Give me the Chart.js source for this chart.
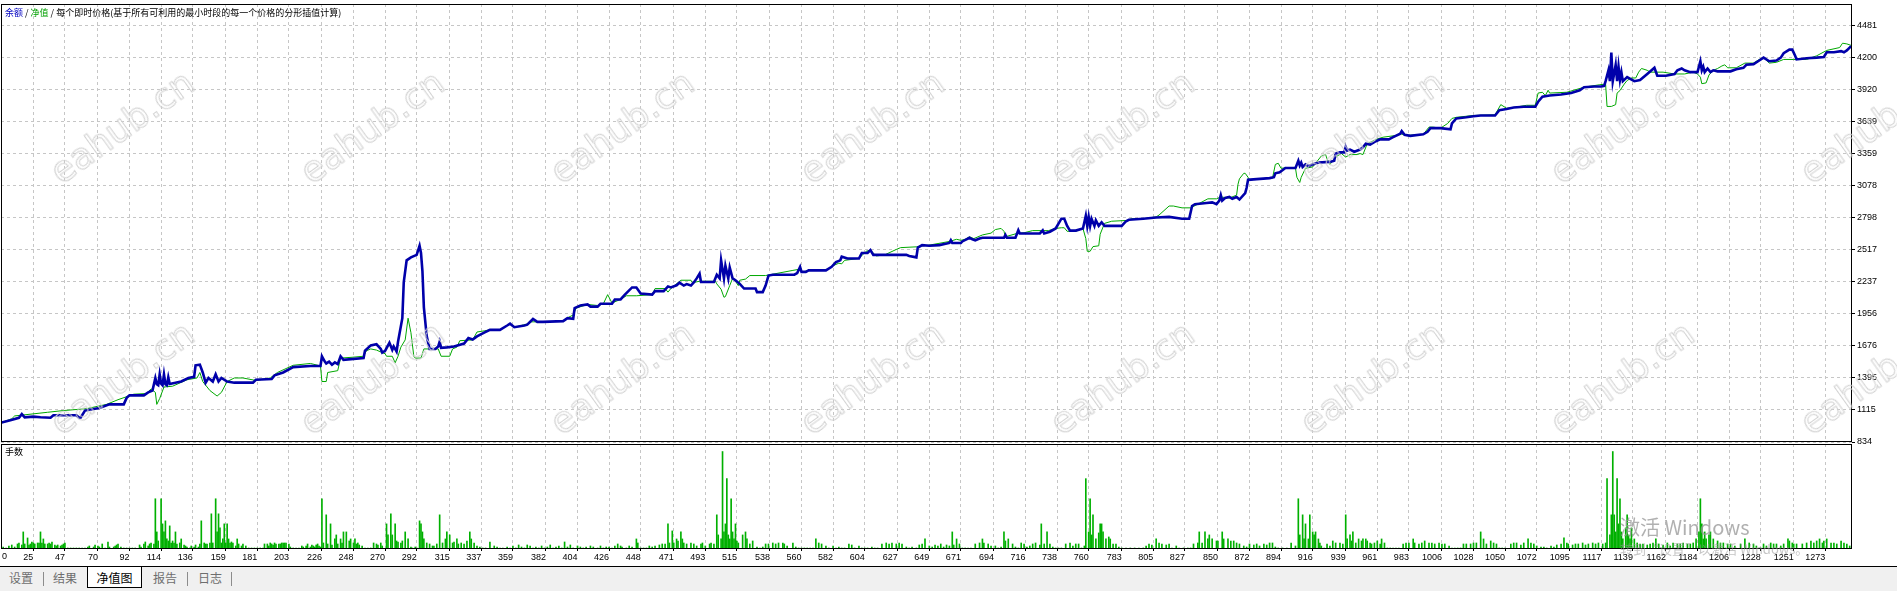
<!DOCTYPE html>
<html>
<head>
<meta charset="utf-8">
<script src="https://cdn.jsdelivr.net/npm/chart.js@4.4.1/dist/chart.umd.min.js"></script>
<style>
html,body{margin:0;padding:0;background:#fff;}
body{width:1897px;height:591px;position:relative;overflow:hidden;font-family:"Liberation Sans",Arial,sans-serif;}
.wrap{position:absolute;left:0;width:1897px;}
#wrapA{top:0;height:452px;}
#wrapB{top:442px;height:125px;}
canvas{display:block;}
.legend{position:absolute;left:5px;top:6px;font-size:9px;line-height:13px;font-family:"Noto Sans CJK SC",sans-serif;white-space:nowrap;color:#000;}
.legend .bal{color:#0000c0}
.legend .eq{color:#00a000}
.lots{position:absolute;left:5px;top:446px;font-size:9px;line-height:12px;font-family:"Noto Sans CJK SC",sans-serif;color:#000;}
.x0{position:absolute;left:2px;top:551px;font-size:9px;line-height:11px;font-family:"Liberation Sans",sans-serif;color:#000;}
.wm{position:absolute;font-family:"DejaVu Sans",sans-serif;font-size:36px;line-height:40px;white-space:nowrap;color:transparent;-webkit-text-stroke:1px #d2d2d2;transform:translate(-50%,-50%) rotate(-35.5deg);pointer-events:none;}
#tabs{position:absolute;left:0;top:566px;width:1897px;height:24px;background:#f0f0f0;border-top:1px solid #000;}
.tab{position:absolute;top:4px;font-size:12px;line-height:14px;font-family:"Noto Sans CJK SC",sans-serif;color:#6e6e6e;white-space:nowrap;}
.sep{position:absolute;top:5px;width:1px;height:14px;background:#8c8c8c;}
.active{position:absolute;left:87px;top:0;width:55px;height:20px;background:#fff;border:1px solid #000;border-top:none;font-size:12px;line-height:14px;font-family:"Noto Sans CJK SC",sans-serif;color:#000;text-align:center;padding-top:4px;box-sizing:border-box;height:21px;}
.act1{position:absolute;left:1620px;top:514px;font-size:20px;line-height:26px;font-family:"Noto Sans CJK SC",sans-serif;color:rgba(150,150,150,0.75);white-space:nowrap;}
.act2{position:absolute;left:1620px;top:541px;font-size:13px;line-height:16px;font-family:"Noto Sans CJK SC",sans-serif;color:rgba(150,150,150,0.55);white-space:nowrap;}
</style>
</head>
<body>
<div class="wrap" id="wrapA"><canvas id="main" width="1897" height="452"></canvas></div>
<div class="wrap" id="wrapB"><canvas id="vol" width="1897" height="125"></canvas></div>
<div class="legend"><span class="bal">余额</span> / <span class="eq">净值</span> / 每个即时价格(基于所有可利用的最小时段的每一个价格的分形插值计算)</div>
<div class="lots">手数</div>
<div class="x0" id="x0"></div>
<div id="wms"></div>
<div class="act1">激活 Windows</div>
<div class="act2">转到“设置”以激活 Windows。</div>
<div id="tabs">
  <span class="tab" style="left:9px">设置</span>
  <div class="sep" style="left:43px"></div>
  <span class="tab" style="left:53px">结果</span>
  <div class="active">净值图</div>
  <span class="tab" style="left:153px">报告</span>
  <div class="sep" style="left:187px"></div>
  <span class="tab" style="left:198px">日志</span>
  <div class="sep" style="left:231px"></div>
</div>
<script>
// ---------------- data ----------------
const xTickLabels = [0,25,47,70,92,114,136,159,181,203,226,248,270,292,315,337,359,382,404,426,448,471,493,515,538,560,582,604,627,649,671,694,716,738,760,783,805,827,850,872,894,916,939,961,983,1006,1028,1050,1072,1095,1117,1139,1162,1184,1206,1228,1251,1273];
const yTickLabels = [834,1115,1395,1676,1956,2237,2517,2798,3078,3359,3639,3920,4200,4481];

// balance (余额): [trade #, value]
const balance = [
[2,1003],[3,1005],[9,1024],[15,1046],[17,1078],[19,1050],[25,1056],[30,1050],[37,1046],[39,1068],[55,1068],[57,1046],[58,1048],[61,1109],[71,1132],[78,1163],[88,1163],[90,1220],[92,1242],[102,1242],[105,1268],[108,1284],[110,1394],[111,1340],[112,1331],[113,1426],[114,1345],[115,1331],[116,1426],[117,1340],[118,1331],[119,1400],[120,1341],[128,1363],[133,1394],[137,1404],[138,1505],[141,1511],[143,1442],[145,1353],[147,1394],[150,1363],[152,1426],[154,1363],[156,1394],[160,1363],[165,1353],[178,1353],[180,1378],[191,1385],[193,1417],[199,1442],[206,1489],[218,1499],
[225,1499],[226,1584],[228,1537],[229,1521],[231,1537],[233,1510],[235,1530],[237,1515],[239,1584],[241,1553],[255,1568],[256,1632],[260,1679],[264,1689],[267,1648],[268,1616],[270,1632],[273,1701],[275,1640],[276,1670],[278,1625],[279,1711],[282,1917],[283,2233],[285,2423],[288,2449],[292,2471],[294,2550],[295,2487],[296,2328],[297,2012],[299,1758],[301,1648],[305,1648],[307,1670],[308,1711],[309,1657],[313,1662],[318,1670],[325,1695],[328,1743],[331,1730],[334,1758],[339,1790],[343,1815],[350,1815],[355,1853],[357,1869],[360,1838],[367,1853],[369,1860],[373,1910],[376,1885],[380,1885],[394,1891],[397,1917],[401,1912],[402,2005],[406,2028],[411,2037],[413,2018],[418,2018],[420,2043],[428,2043],[430,2081],[434,2081],
[437,2123],[442,2186],[445,2186],[448,2132],[456,2123],[458,2154],[464,2154],[467,2195],[469,2186],[473,2205],[475,2227],[478,2202],[480,2215],[483,2202],[485,2230],[487,2265],[489,2306],[490,2233],[499,2233],[501,2297],[503,2265],[504,2423],[506,2265],[507,2376],[509,2265],[510,2360],[512,2265],[514,2249],[517,2217],[520,2176],[528,2176],[529,2145],[533,2145],[535,2202],[537,2290],[540,2297],[555,2297],[557,2312],[559,2366],[560,2322],[563,2322],[565,2335],[577,2335],[581,2366],[584,2407],[587,2423],[588,2455],[592,2439],[600,2439],[602,2487],[606,2487],[608,2512],[610,2471],[633,2471],[635,2461],[640,2449],[641,2534],[644,2556],[649,2550],
[656,2556],[663,2575],[664,2598],[665,2575],[671,2575],[672,2588],[677,2620],[679,2607],[681,2598],[684,2613],[686,2620],[701,2620],[702,2645],[703,2620],[709,2620],[711,2686],[712,2658],[726,2658],[728,2686],[729,2658],[733,2673],[737,2702],[741,2787],[743,2787],[745,2724],[747,2683],[751,2683],[756,2702],[758,2813],[759,2724],[760,2803],[761,2724],[762,2787],[764,2724],[765,2772],[767,2724],[769,2756],[771,2724],[774,2724],[783,2724],[786,2765],[788,2778],[798,2787],[807,2797],[816,2803],[825,2787],[830,2787],[832,2898],[834,2914],[842,2924],[846,2930],[849,2914],[851,2946],[852,2993],[853,2946],[855,2968],[858,2977],[860,2961],[863,2977],[865,2955],
[869,3011],[870,3058],[871,3127],[877,3133],[886,3142],[889,3150],[890,3184],[893,3193],[897,3231],[904,3231],[905,3262],[906,3294],[907,3253],[908,3278],[909,3240],[911,3262],[913,3246],[916,3262],[920,3278],[928,3284],[931,3294],[932,3357],[935,3367],[938,3367],[939,3414],[940,3383],[942,3392],[945,3373],[949,3392],[951,3411],[953,3443],[956,3436],[960,3465],[963,3481],[969,3481],[972,3500],[977,3531],[978,3553],[980,3521],[984,3512],[993,3525],[996,3547],[998,3579],[1005,3579],[1012,3569],[1013,3620],[1016,3664],[1023,3674],[1028,3683],[1033,3690],[1043,3690],[1046,3737],[1051,3747],[1056,3760],[1063,3766],[1071,3766],[1073,3810],[1076,3855],[1081,3864],
[1089,3874],[1096,3886],[1102,3911],[1105,3937],[1112,3943],[1117,3943],[1119,3949],[1120,3990],[1122,4085],[1123,3990],[1124,4240],[1125,3990],[1127,4132],[1128,3990],[1129,4117],[1130,4000],[1131,4069],[1132,3990],[1135,4025],[1140,3990],[1144,4000],[1149,4053],[1152,4085],[1154,4107],[1156,4037],[1162,4037],[1168,4053],[1170,4085],[1173,4101],[1175,4085],[1179,4069],[1184,4069],[1186,4164],[1187,4085],[1188,4117],[1189,4069],[1191,4101],[1193,4069],[1195,4085],[1198,4076],[1207,4076],[1211,4095],[1216,4107],[1218,4133],[1223,4139],[1227,4171],[1230,4196],[1234,4164],[1239,4171],[1242,4196],[1244,4234],[1248,4266],[1250,4266],[1252,4212],[1253,4180],[1260,4190],[1267,4196],[1272,4202],[1274,4243],[1279,4243],[1284,4253],[1286,4243],[1288,4259],[1291,4297]
];

// equity (净值): [trade #, value]
const equity = [
[2,1003],[3,1005],[10,1037],[12,1062],[35,1094],[46,1109],[62,1125],[76,1163],[84,1204],[89,1226],[95,1252],[104,1258],[107,1299],[110,1268],[111,1163],[113,1214],[116,1315],[122,1322],[132,1378],[139,1394],[141,1442],[143,1363],[148,1284],[153,1236],[156,1268],[160,1363],[165,1394],[171,1394],[180,1372],[190,1394],[195,1442],[206,1505],[218,1521],
[225,1499],[226,1363],[229,1363],[230,1442],[237,1458],[239,1568],[247,1575],[255,1584],[257,1632],[260,1648],[264,1638],[268,1616],[270,1606],[271,1584],[275,1584],[277,1527],[279,1584],[281,1664],[284,1727],[286,1917],[288,1790],[290,1584],[291,1568],[295,1568],[297,1648],[307,1648],[309,1584],[315,1584],[317,1648],[320,1664],[322,1720],[331,1727],[334,1796],[339,1806],[343,1815],[350,1815],[355,1853],[357,1869],[360,1838],[369,1866],[371,1885],[380,1885],[394,1891],[397,1920],[401,1945],[403,2005],[411,2037],[418,2028],[422,2043],[425,2123],[428,2050],[434,2081],
[438,2113],[445,2113],[456,2123],[458,2176],[465,2176],[467,2145],[469,2176],[476,2249],[483,2249],[484,2227],[489,2240],[500,2240],[501,2217],[504,2170],[506,2100],[507,2106],[510,2202],[512,2265],[514,2240],[516,2202],[517,2249],[521,2259],[524,2290],[535,2290],[538,2297],[554,2335],[558,2344],[561,2322],[565,2335],[578,2344],[582,2376],[586,2398],[588,2392],[590,2423],[600,2439],[605,2502],[608,2512],[612,2461],[618,2471],[626,2518],[629,2534],[640,2541],[644,2550],[649,2556],
[663,2588],[668,2607],[671,2598],[674,2607],[677,2629],[680,2613],[686,2645],[692,2661],[695,2692],[699,2702],[701,2677],[702,2629],[710,2658],[715,2664],[721,2683],[732,2683],[737,2702],[741,2708],[743,2708],[745,2677],[751,2677],[756,2702],[758,2613],[759,2502],[761,2502],[763,2543],[767,2550],[768,2651],[771,2746],[776,2765],[787,2772],[790,2787],[798,2787],[807,2803],[809,2819],[816,2898],[819,2898],[825,2882],[831,2882],[836,2914],[843,2961],[849,2961],[852,2977],[858,2968],[863,2993],[864,3089],[865,3136],
[868,3184],[869,3184],[871,3149],[872,3127],[877,3133],[888,3142],[890,3262],[892,3272],[894,3228],[897,3231],[904,3231],[905,3149],[907,3104],[908,3149],[911,3228],[916,3240],[922,3335],[925,3348],[926,3310],[928,3262],[930,3294],[933,3335],[936,3357],[939,3326],[942,3348],[947,3348],[949,3357],[951,3348],[954,3443],[961,3484],[965,3500],[974,3515],[977,3531],[981,3515],[993,3525],[997,3588],[1000,3588],[1005,3579],[1010,3620],[1013,3664],[1016,3674],[1028,3690],[1043,3696],[1047,3785],[1051,3753],[1056,3760],[1065,3779],[1071,3779],[1073,3886],[1076,3893],[1078,3864],[1080,3911],[1081,3886],
[1093,3893],[1105,3937],[1116,3959],[1120,3965],[1121,3769],[1124,3769],[1127,3785],[1128,3886],[1130,3908],[1133,3965],[1135,3996],[1138,4018],[1141,4018],[1143,4069],[1145,4101],[1149,4085],[1151,4069],[1160,4069],[1168,4053],[1175,4053],[1181,4069],[1184,4053],[1186,4025],[1187,3968],[1190,3975],[1192,4044],[1195,4085],[1198,4101],[1201,4123],[1203,4133],[1205,4107],[1211,4107],[1217,4148],[1223,4148],[1227,4180],[1230,4196],[1234,4148],[1239,4155],[1244,4180],[1251,4180],[1260,4180],[1267,4212],[1274,4259],[1283,4284],[1285,4322],[1288,4316],[1291,4303]
];

// lots (手数): [trade #, lots]
const lots = [
[1,.02],[4,.02],[6,.01],[8,.03],[10,.04],[12,.02],[14,.05],[15,.06],[17,.04],[18,.17],[19,.05],[21,.11],[22,.04],[23,.05],[24,.07],[25,.06],[26,.05],[28,.06],[29,.06],[30,.17],[31,.06],[32,.10],[33,.05],[35,.05],[36,.06],[37,.05],[38,.07],[40,.04],[41,.03],[42,.04],[44,.03],[45,.04],[46,.05],[47,.06],[49,.01],[51,.01],[53,.01],[55,.01],[57,.01],[59,.01],[61,.01],[63,.02],[64,.03],[67,.02],[68,.04],[70,.03],[71,.02],[73,.05],[75,.01],[77,.07],[78,.02],[81,.02],[82,.03],[83,.04],[84,.05],[86,.02],[88,.01],[90,.01],[92,.01],[94,.01],[96,.01],[99,.04],[100,.02],[102,.05],[103,.07],[105,.03],[106,.05],[107,.06],[109,.05],[110,.50],[111,.17],[112,.08],[114,.50],[115,.25],[116,.17],[117,.28],[118,.10],[119,.08],[120,.23],[121,.06],[122,.08],[123,.06],[124,.17],[125,.05],[127,.06],[128,.10],[130,.04],[131,.03],[132,.02],[134,.01],[135,.03],[137,.02],[138,.04],[140,.02],[141,.05],[142,.28],[144,.06],[145,.05],[146,.05],[148,.06],[149,.35],[150,.06],[152,.50],[153,.17],[154,.35],[155,.21],[156,.06],[157,.10],[158,.25],[159,.06],[160,.25],[161,.10],[162,.06],[163,.07],[164,.06],[166,.03],[167,.10],[168,.05],[170,.03],[171,.05],[173,.03],[175,.01],[177,.01],[179,.01],[181,.01],[183,.01],[185,.01],[186,.05],[188,.05],[189,.03],[190,.06],[191,.05],[192,.04],[193,.06],[194,.05],[196,.05],[197,.05],[198,.06],[199,.06],[200,.06],[201,.06],[203,.05],[204,.02],[206,.01],[208,.01],[210,.01],[212,.03],[213,.02],[215,.03],[216,.05],
[218,.02],[219,.04],[220,.03],[221,.02],[222,.04],[223,.05],[224,.03],[225,.02],[226,.50],[227,.06],[229,.34],[230,.05],[232,.25],[233,.04],[235,.10],[236,.14],[237,.05],[239,.10],[240,.06],[241,.17],[243,.17],[245,.08],[246,.10],[248,.06],[249,.10],[250,.05],[251,.06],[252,.04],[254,.03],[256,.01],[258,.01],[260,.01],[262,.06],[264,.05],[265,.04],[267,.06],[268,.03],[271,.25],[272,.14],[274,.35],[275,.14],[277,.25],[278,.08],[279,.07],[281,.06],[282,.08],[284,.17],[286,.10],[288,.02],[289,.01],[291,.02],[292,.01],[294,.28],[295,.25],[296,.17],[297,.10],[299,.06],[301,.05],[303,.03],[304,.03],[306,.05],[308,.34],[310,.06],[312,.10],[313,.17],[315,.14],[317,.06],[318,.07],[320,.10],[321,.05],[323,.06],[325,.05],[327,.08],[329,.17],[330,.10],[332,.06],[334,.03],[336,.02],[338,.01],[340,.01],[343,.07],[346,.03],[348,.02],[350,.01],[352,.01],[355,.02],[357,.01],[359,.03],[361,.01],[363,.04],[365,.02],[367,.01],[369,.04],[371,.03],[373,.01],[375,.02],[377,.01],[379,.03],[381,.01],[383,.02],[385,.04],[387,.01],[389,.02],[391,.03],[393,.01],[395,.07],[397,.02],[399,.04],[401,.01],[404,.03],[406,.02],[408,.01],[410,.02],[413,.03],[415,.02],[418,.01],[420,.03],[422,.01],[424,.02],[426,.02],[428,.01],[430,.03],[432,.05],
[434,.03],[435,.02],[438,.01],[440,.03],[442,.02],[445,.10],[446,.06],[448,.01],[450,.01],[452,.01],[454,.03],[456,.02],[458,.03],[461,.04],[463,.05],[465,.05],[467,.25],[468,.06],[470,.18],[471,.06],[473,.10],[474,.08],[476,.17],[477,.10],[478,.06],[480,.05],[483,.06],[485,.05],[487,.03],[490,.05],[491,.06],[493,.03],[496,.05],[497,.06],[499,.05],[501,.34],[502,.14],[504,.10],[505,.97],[506,.17],[507,.25],[508,.70],[509,.14],[510,.10],[511,.50],[512,.17],[513,.10],[514,.25],[515,.08],[516,.06],[519,.14],[521,.17],[522,.10],[524,.05],[526,.08],[529,.02],[531,.01],[533,.02],[535,.05],[537,.05],[540,.06],[542,.05],[544,.06],[547,.06],[548,.05],[550,.03],[554,.06],[556,.02],[558,.01],[560,.01],[562,.01],[564,.01],[566,.01],[568,.01],[570,.10],[572,.06],[574,.05],[577,.03],[579,.01],[582,.03],[584,.01],[586,.02],[588,.01],[590,.01],[593,.05],[595,.04],[597,.01],[600,.03],[602,.01],[604,.01],[606,.01],[609,.02],[611,.01],[613,.01],[616,.05],[619,.06],[621,.05],[623,.06],[626,.05],[628,.06],[630,.05],[633,.02],[635,.01],[637,.02],[640,.01],[642,.04],[644,.05],[646,.10],[649,.03],
[651,.02],[653,.04],[655,.03],[657,.05],[659,.02],[661,.04],[663,.03],[665,.17],[666,.04],[668,.10],[670,.05],[672,.01],[674,.01],[676,.01],[678,.01],[681,.05],[684,.06],[686,.10],[687,.06],[690,.05],[692,.03],[695,.03],[697,.01],[699,.02],[701,.17],[702,.08],[704,.10],[707,.05],[709,.02],[711,.01],[713,.06],[715,.05],[717,.02],[719,.03],[721,.05],[723,.06],[726,.04],[727,.25],[729,.05],[731,.17],[733,.05],[735,.02],[737,.01],[739,.01],[741,.01],[744,.05],[747,.06],[749,.03],[751,.05],[753,.05],[755,.01],[757,.03],[758,.70],[760,.17],[761,.50],[762,.14],[763,.34],[765,.10],[767,.16],[768,.25],[769,.25],[770,.17],[772,.10],[774,.12],[775,.10],[777,.05],[779,.05],[781,.02],[783,.01],[786,.01],[789,.01],[792,.01],[795,.01],[798,.01],[800,.03],[802,.05],[804,.04],[807,.10],[809,.06],[811,.05],[814,.04],[816,.05],[818,.01],[821,.03],[823,.01],[826,.01],[829,.01],[831,.01],[833,.05],[836,.06],[837,.17],[839,.06],[841,.17],[843,.10],[844,.14],[846,.10],[849,.08],[850,.08],[853,.17],[854,.10],[857,.10],[859,.08],[861,.08],[863,.06],
[865,.05],[868,.03],[870,.02],[872,.05],[875,.04],[877,.05],[879,.03],[882,.05],[884,.04],[886,.06],[888,.06],[890,.02],[892,.01],[895,.01],[898,.01],[901,.06],[904,.03],[906,.50],[907,.14],[909,.34],[910,.10],[911,.25],[913,.10],[914,.34],[916,.17],[917,.14],[918,.17],[920,.10],[921,.06],[922,.03],[924,.01],[926,.05],[928,.03],[930,.08],[932,.06],[935,.06],[937,.05],[939,.34],[940,.10],[942,.14],[943,.08],[944,.17],[946,.06],[948,.10],[950,.08],[951,.10],[953,.10],[954,.08],[956,.06],[957,.05],[959,.06],[961,.08],[963,.05],[964,.10],[966,.06],[968,.01],[970,.01],[972,.01],[974,.01],[976,.01],[979,.05],[981,.06],[983,.06],[986,.10],[987,.06],[990,.05],[992,.06],[994,.08],[997,.06],[999,.06],[1001,.05],[1004,.06],[1006,.05],[1008,.05],[1011,.03],[1013,.01],[1015,.01],[1017,.01],[1019,.01],[1021,.05],[1023,.05],[1026,.05],[1028,.06],[1030,.06],[1033,.17],[1035,.10],[1037,.05],[1040,.08],[1042,.06],[1044,.05],[1046,.01],[1048,.01],[1050,.01],[1054,.05],[1056,.06],[1058,.06],[1061,.04],[1063,.06],[1066,.10],[1068,.06],[1070,.05],[1072,.03],[1075,.02],[1077,.02],[1079,.01],
[1082,.03],[1084,.02],[1086,.04],[1089,.05],[1091,.11],[1093,.06],[1094,.05],[1097,.04],[1099,.05],[1101,.05],[1104,.06],[1106,.04],[1108,.05],[1111,.06],[1113,.05],[1115,.06],[1118,.05],[1120,.06],[1121,.70],[1123,.14],[1124,.34],[1125,.97],[1126,.34],[1127,.17],[1128,.70],[1129,.25],[1130,.50],[1131,.17],[1132,.10],[1134,.21],[1135,.34],[1136,.14],[1137,.10],[1138,.21],[1140,.10],[1142,.06],[1144,.05],[1146,.05],[1149,.04],[1151,.05],[1153,.06],[1155,.10],[1157,.05],[1160,.04],[1163,.06],[1165,.03],[1167,.06],[1170,.05],[1172,.05],[1174,.06],[1177,.05],[1179,.05],[1181,.06],[1183,.10],[1185,.17],[1186,.50],[1187,.25],[1188,.10],[1189,.17],[1190,.10],[1192,.14],[1193,.17],[1195,.10],[1198,.08],[1200,.06],[1202,.06],[1205,.05],[1207,.05],[1210,.03],[1214,.05],[1217,.10],[1220,.06],[1223,.05],[1225,.03],[1228,.01],[1230,.05],[1232,.03],[1235,.06],[1237,.05],[1239,.05],[1242,.03],[1244,.05],[1247,.10],[1248,.08],[1250,.06],[1251,.05],[1253,.05],[1257,.05],[1260,.06],[1263,.08],[1265,.06],[1267,.08],[1269,.10],[1271,.06],[1272,.08],[1274,.10],[1277,.06],[1279,.06],[1281,.05],[1284,.08],[1286,.06],[1288,.05],[1290,.03]
];

// ---------------- chart setup ----------------
const X_MIN = 2.5, X_MAX = 1291.6;
const Y_MIN = 834, Y_MAX = 4665;
const LOT_MAX = 1.045;
const GRID = '#c6c6c6';
const FONT = {family: 'Liberation Sans', size: 9};

const xInRange = xTickLabels.filter(v => v >= X_MIN && v <= X_MAX);
document.getElementById('x0').textContent = xTickLabels.filter(v => v < X_MIN).join(' ');

const frame = {
  id: 'frame',
  afterDraw(chart) {
    const {ctx, chartArea: a} = chart;
    ctx.save();
    ctx.strokeStyle = '#000';
    ctx.lineWidth = 1;
    ctx.setLineDash([]);
    const l = Math.round(a.left), t = Math.round(a.top), r = Math.round(a.right), b = Math.round(a.bottom);
    ctx.strokeRect(l + 0.5, t + 0.5, r - l - 1, b - t - 1);
    ctx.restore();
  }
};

const noPadX = s => { s.paddingLeft = 0; s.paddingRight = 0; };

new Chart(document.getElementById('main'), {
  type: 'line',
  data: {
    datasets: [
      {label: '余额', data: balance.map(([x, y]) => ({x, y})), borderColor: '#0000aa', borderWidth: 2.6, pointRadius: 0, tension: 0, borderJoinStyle: 'miter', fill: false},
      {label: '净值', data: equity.map(([x, y]) => ({x, y})), borderColor: '#00a800', borderWidth: 1, pointRadius: 0, tension: 0, fill: false}
    ]
  },
  options: {
    responsive: false, animation: false, devicePixelRatio: 1, events: [],
    layout: {padding: {left: 1, right: 0, top: 4, bottom: 10}},
    plugins: {legend: {display: false}, tooltip: {enabled: false}},
    scales: {
      x: {
        type: 'linear', min: X_MIN, max: X_MAX, offset: false,
        afterBuildTicks: s => { s.ticks = xInRange.map(v => ({value: v})); },
        afterFit: s => { s.height = 0; noPadX(s); },
        ticks: {display: false},
        grid: {color: GRID, lineWidth: 1, drawTicks: false},
        border: {display: false, dash: [3, 3]}
      },
      y: {
        type: 'linear', position: 'right', min: Y_MIN, max: Y_MAX,
        afterBuildTicks: s => { s.ticks = yTickLabels.map(v => ({value: v})); },
        afterFit: s => { s.width = 45; s.paddingTop = 0; s.paddingBottom = 0; },
        ticks: {callback: v => String(v), font: FONT, color: '#000', padding: 2, autoSkip: false},
        grid: {color: GRID, lineWidth: 1, drawTicks: true, tickLength: 3, tickColor: '#000'},
        border: {display: false, dash: [3, 3]}
      }
    }
  },
  plugins: [frame]
});

new Chart(document.getElementById('vol'), {
  type: 'bar',
  data: {
    datasets: [
      {label: '手数', data: lots.map(([x, y]) => ({x, y})), backgroundColor: '#00b000', borderWidth: 0, barThickness: 1, grouped: false}
    ]
  },
  options: {
    responsive: false, animation: false, devicePixelRatio: 1, events: [],
    layout: {padding: {left: 1, right: 0, top: 2, bottom: 0}},
    plugins: {legend: {display: false}, tooltip: {enabled: false}},
    scales: {
      x: {
        type: 'linear', min: X_MIN, max: X_MAX, offset: false,
        afterBuildTicks: s => { s.ticks = xInRange.map(v => ({value: v})); },
        afterFit: s => { s.height = 18; noPadX(s); },
        ticks: {callback: v => String(v), font: FONT, color: '#000', align: 'end', autoSkip: false, maxRotation: 0, minRotation: 0, padding: 1},
        grid: {color: GRID, lineWidth: 1, drawTicks: true, tickLength: 2, tickColor: '#000', offset: false},
        border: {display: false, dash: [3, 3]}
      },
      y: {
        type: 'linear', position: 'right', min: 0, max: LOT_MAX,
        afterFit: s => { s.width = 45; s.paddingTop = 0; s.paddingBottom = 0; },
        ticks: {display: false},
        grid: {display: false, drawTicks: false},
        border: {display: false}
      }
    }
  },
  plugins: [frame]
});

// watermarks
const wms = document.getElementById('wms');
[127, 378].forEach(cy => {
  for (let k = 0; k < 8; k++) {
    const d = document.createElement('div');
    d.className = 'wm';
    d.textContent = 'eahub.cn';
    d.style.left = (122 + 250 * k) + 'px';
    d.style.top = cy + 'px';
    wms.appendChild(d);
  }
});
</script>
</body>
</html>
